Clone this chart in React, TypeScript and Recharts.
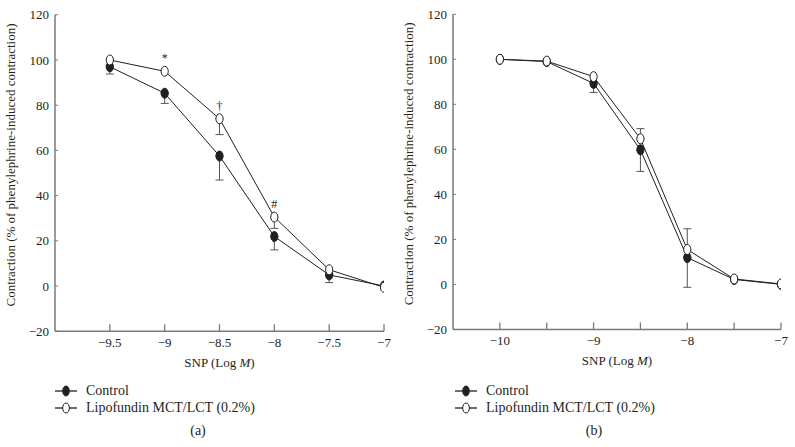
import { LineChart, Line, XAxis, YAxis, ErrorBar, LabelList } from 'recharts';

// panel (a)
const doseA = [-9.5, -9, -8.5, -8, -7.5, -7];
const controlA = [97, 85.3, 57.5, 21.9, 4.9, 0];
const controlAErrDown = [3.2, 4.5, 10.6, 5.9, 3.4, null];
const lipoA = [100, 95, 74, 30.5, 7.2, -0.6];
const lipoAErrDown = [null, null, 7, 5, null, null];
const sigA = ['', '*', '†', '#', '', ''];
const ticksA = [-9.5, -9, -8.5, -8, -7.5, -7];

// panel (b)
const doseB = [-10, -9.5, -9, -8.5, -8, -7.5, -7];
const controlB = [100, 99, 89.3, 59.8, 11.9, 2.2, 0];
const controlBErrDown = [null, null, 4, 9.6, 13.2, null, null];
const lipoB = [100, 99.2, 92.3, 64.7, 15.5, 2.4, 0.2];
const lipoBErrUp = [null, null, null, 4.5, 9.2, null, null];
const ticksB = [-10, -9.5, -9, -8.5, -8, -7.5, -7];
const labeledB = [-10, -9, -8, -7];

const yTicks = [-20, 0, 20, 40, 60, 80, 100, 120];

const INK = '#231f20';
const AXIS = '#7a7a7a';
const FONT = "'Liberation Serif', 'Times New Roman', Times, 'DejaVu Serif', 'Noto Serif', serif";

const rowsA = doseA.map((d, i) => ({
  dose: d,
  control: controlA[i],
  controlErr: controlAErrDown[i] == null ? null : [controlAErrDown[i], 0],
  lipo: lipoA[i],
  lipoErr: lipoAErrDown[i] == null ? null : [lipoAErrDown[i], 0],
  sig: sigA[i],
}));

const rowsB = doseB.map((d, i) => ({
  dose: d,
  control: controlB[i],
  controlErr: controlBErrDown[i] == null ? null : [controlBErrDown[i], 0],
  lipo: lipoB[i],
  lipoErr: lipoBErrUp[i] == null ? null : [0, lipoBErrUp[i]],
  sig: '',
}));

const fmt = (v: number) => (v < 0 ? '\u2212' + Math.abs(v) : String(v));

function XTick(props: any) {
  const { x, y, payload, labeled } = props;
  const show = !labeled || labeled.includes(payload.value);
  return (
    <g>
      <line x1={x} x2={x} y1={y} y2={y - 7} stroke={AXIS} strokeWidth={1.3} />
      {show && (
        <text x={x} y={y + 16} textAnchor="middle" fontSize={13} fill={INK} style={{ fontFamily: FONT }}>
          {fmt(payload.value)}
        </text>
      )}
    </g>
  );
}

function YTick(props: any) {
  const { x, y, payload } = props;
  return (
    <g>
      <line x1={x} x2={x + 3} y1={y} y2={y} stroke={AXIS} strokeWidth={1} />
      <text x={x - 6} y={y + 4.5} textAnchor="end" fontSize={13} fill={INK} style={{ fontFamily: FONT }}>
        {fmt(payload.value)}
      </text>
    </g>
  );
}

const dotFor = (filled: boolean) => (p: any) => (
  <ellipse
    key={`${filled ? 'c' : 'l'}-${p.index}`}
    cx={p.cx}
    cy={p.cy}
    rx={3.6}
    ry={5}
    fill={filled ? INK : '#fff'}
    stroke={INK}
    strokeWidth={1}
  />
);

function Panel({ rows, domain, ticks, labeled, top, bottom, width, marginRight, labelX }: any) {
  const height = 380;
  return (
    <LineChart
      width={width}
      height={height}
      data={rows}
      margin={{ top, right: marginRight, bottom: height - bottom - 20, left: 0 }}
      style={{ fontFamily: FONT }}
    >
      <XAxis
        dataKey="dose"
        type="number"
        domain={domain}
        ticks={ticks}
        allowDataOverflow
        height={20}
        tickSize={0}
        tickMargin={0}
        tickLine={false}
        axisLine={{ stroke: AXIS, strokeWidth: 1.5 }}
        tick={<XTick labeled={labeled} />}
        label={{
          content: (lp: any) => {
            const vb = lp.viewBox;
            return (
              <text x={vb.x + vb.width / 2} y={bottom + 36} textAnchor="middle" fontSize={13} fill={INK} style={{ fontFamily: FONT }}>
                <tspan>SNP (Log </tspan>
                <tspan fontStyle="italic">M</tspan>
                <tspan>)</tspan>
              </text>
            );
          },
        }}
      />
      <YAxis
        domain={[-20, 120]}
        ticks={yTicks}
        width={55}
        tickSize={0}
        tickMargin={0}
        tickLine={false}
        axisLine={{ stroke: AXIS, strokeWidth: 1.5 }}
        tick={<YTick />}
        label={{
          content: () => {
            const cy = (top + bottom) / 2 - 8;
            return (
              <text
                x={labelX}
                y={cy}
                transform={`rotate(-90 ${labelX} ${cy})`}
                textAnchor="middle"
                fontSize={13}
                fill={INK}
                style={{ fontFamily: FONT }}
              >
                Contraction (% of phenylephrine-induced contraction)
              </text>
            );
          },
        }}
      />
      <Line
        dataKey="control"
        type="linear"
        stroke={INK}
        strokeWidth={1}
        dot={dotFor(true)}
        isAnimationActive={false}
      >
        <ErrorBar dataKey="controlErr" direction="y" width={4} stroke="#555" strokeWidth={1} />
      </Line>
      <Line
        dataKey="lipo"
        type="linear"
        stroke={INK}
        strokeWidth={1}
        dot={dotFor(false)}
        isAnimationActive={false}
      >
        <ErrorBar dataKey="lipoErr" direction="y" width={4} stroke="#555" strokeWidth={1} />
        <LabelList dataKey="sig" position="top" offset={9} fontSize={12} fill={INK} style={{ fontFamily: FONT }} />
      </Line>
    </LineChart>
  );
}

function LegendBlock({ left, top, caption, captionX }: any) {
  const row = (filled: boolean, text: string, y: number) => (
    <div style={{ position: 'absolute', left, top: y, height: 18, display: 'flex', alignItems: 'center' }}>
      <svg width={26} height={14} style={{ display: 'block' }}>
        <line x1={0} x2={22} y1={7} y2={7} stroke={INK} strokeWidth={1.3} />
        <ellipse cx={11} cy={7} rx={3.3} ry={5} fill={filled ? INK : '#fff'} stroke={INK} strokeWidth={1} />
      </svg>
      <span style={{ marginLeft: 5, fontSize: 14, color: INK, fontFamily: FONT, whiteSpace: 'nowrap' }}>{text}</span>
    </div>
  );
  return (
    <>
      {row(true, 'Control', top)}
      {row(false, 'Lipofundin MCT/LCT (0.2%)', top + 17)}
      <div
        style={{
          position: 'absolute',
          left: captionX - 20,
          width: 40,
          top: top + 41,
          textAlign: 'center',
          fontSize: 14,
          color: INK,
          fontFamily: FONT,
        }}
      >
        {caption}
      </div>
    </>
  );
}

export default function App() {
  return (
    <div style={{ position: 'absolute', left: 0, top: 0, width: 795, height: 447, background: '#fff', overflow: 'hidden', fontFamily: FONT }}>
      <div style={{ position: 'absolute', left: 0, top: 0 }}>
        <Panel
          rows={rowsA}
          domain={[-10, -7]}
          ticks={ticksA}
          labeled={null}
          top={14.8}
          bottom={331.2}
          width={400}
          marginRight={16}
          labelX={15}
        />
      </div>
      <div style={{ position: 'absolute', left: 398, top: 0 }}>
        <Panel
          rows={rowsB}
          domain={[-10.5, -7]}
          ticks={ticksB}
          labeled={labeledB}
          top={14.3}
          bottom={329.4}
          width={397}
          marginRight={14}
          labelX={15}
        />
      </div>
      <LegendBlock left={55} top={382} caption="(a)" captionX={198} />
      <LegendBlock left={455} top={382} caption="(b)" captionX={594} />
    </div>
  );
}
